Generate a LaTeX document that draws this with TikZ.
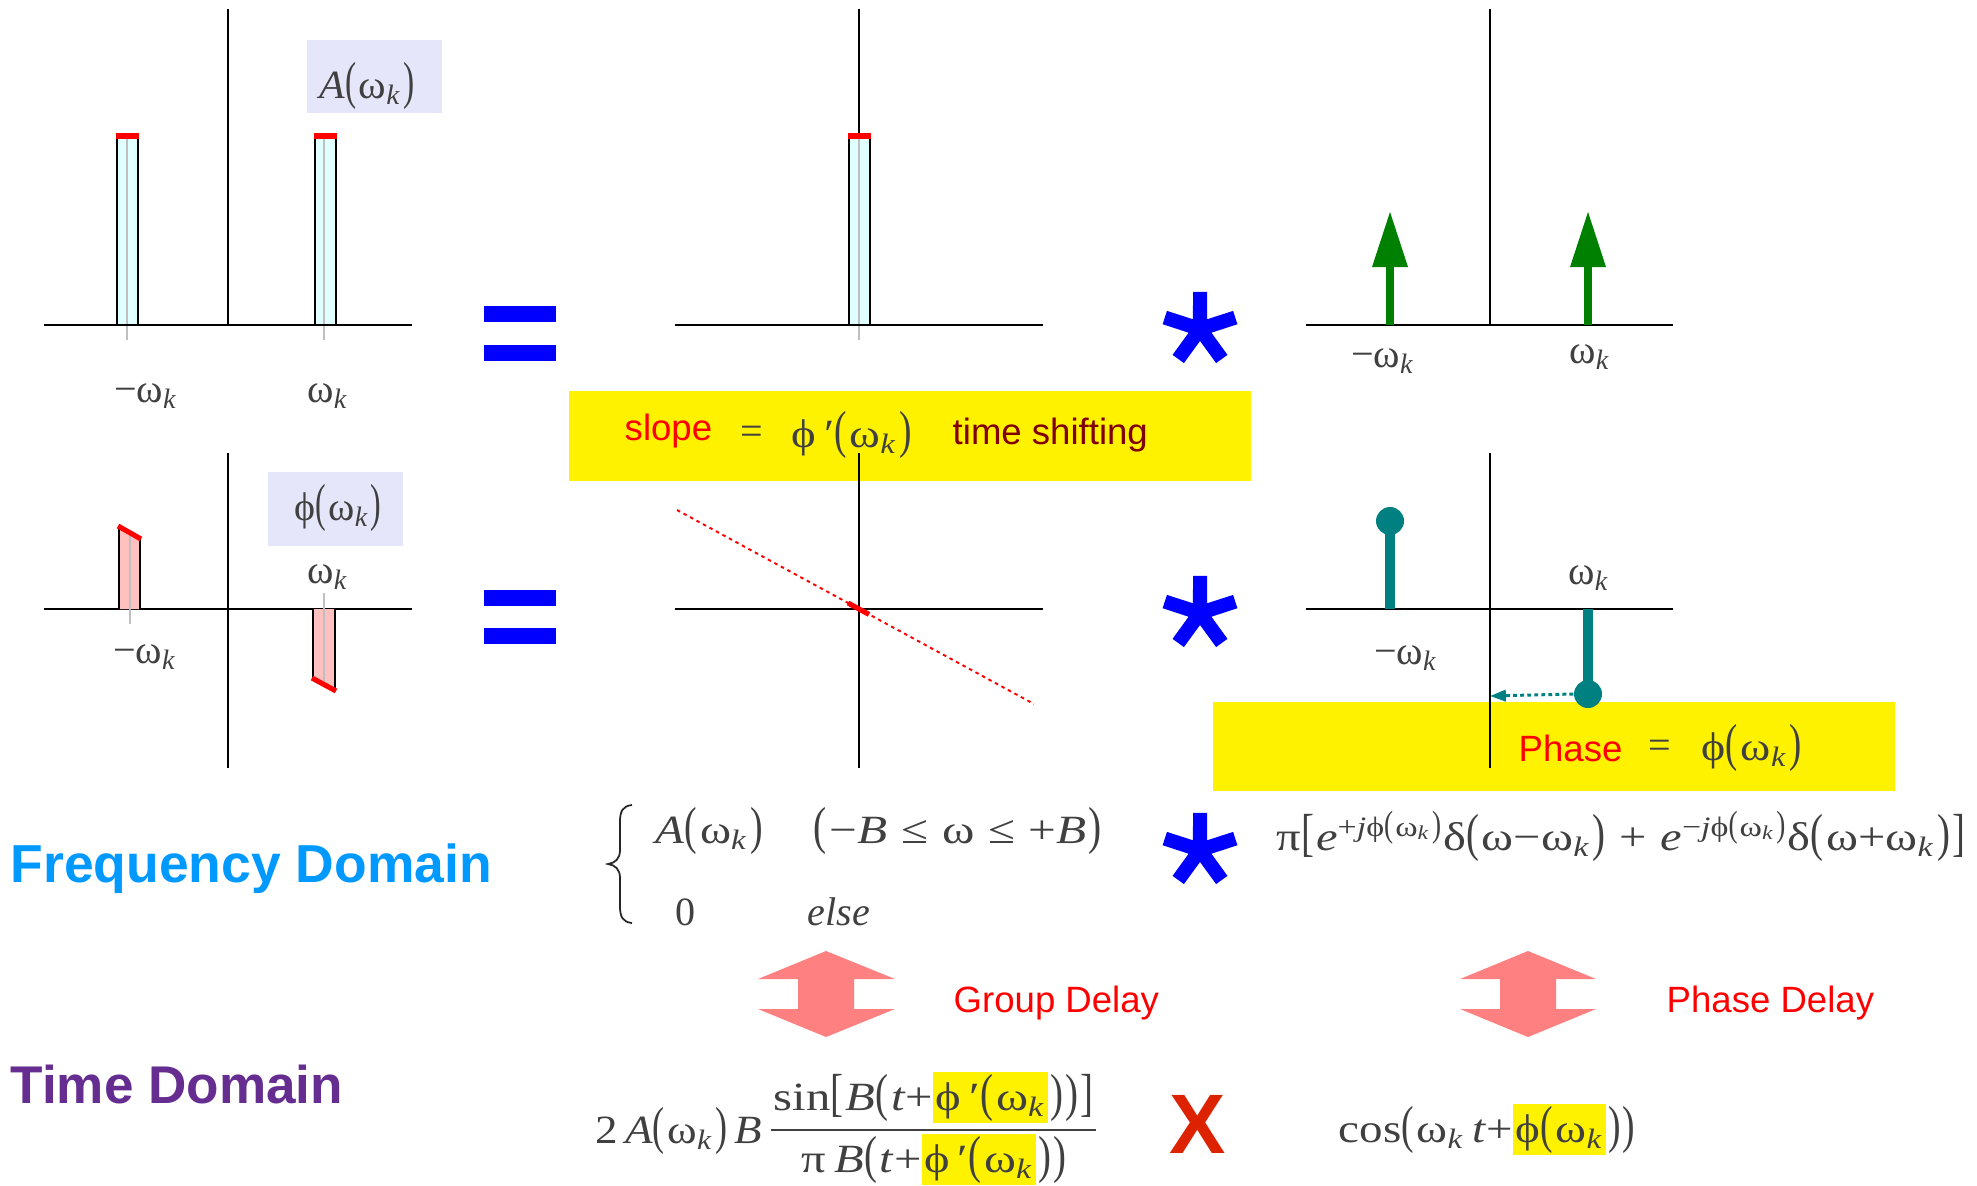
\documentclass[tikz,border=0pt]{standalone}
\usepackage{fontspec}
\usepackage{graphicx}
\setmainfont{Liberation Serif}
\newfontfamily\sansf{Liberation Sans}
\usetikzlibrary{arrows.meta}
\definecolor{txtgray}{HTML}{404040}
\definecolor{lav}{HTML}{E6E6FA}
\definecolor{bcyan}{HTML}{E0FFFF}
\definecolor{bpink}{HTML}{FFC0C0}
\definecolor{fdblue}{HTML}{0099FF}
\definecolor{tdpurple}{HTML}{662D91}
\definecolor{maroonx}{HTML}{800000}
\definecolor{salmonx}{HTML}{FF8080}
\definecolor{greenx}{HTML}{008000}
\definecolor{tealx}{HTML}{008080}
\definecolor{xred}{HTML}{DD2200}
\definecolor{eqblue}{HTML}{0000FF}
\newcommand\fs{\fontsize{11.4pt}{13pt}\selectfont}
\newcommand\sfs{\sansf\fontsize{10.4pt}{12pt}\selectfont}
\newcommand\wk{ω\textsubscript{\textit{k}}}
\newcommand\ph{ϕ}
\newcommand\Lp{\scalebox{0.8}[1.3]{(}\kern0.06em}
\newcommand\Rp{\kern0.04em\scalebox{0.8}[1.3]{)}}
\newcommand\Lb{\scalebox{0.8}[1.3]{[}\kern0.04em}
\newcommand\Rb{\kern0.04em\scalebox{0.8}[1.3]{]}}
\newcommand\rgap{\hspace{0.28em}}
\newcommand\hly[1]{{\fboxsep=0.6pt\colorbox{yellow}{#1}}}
\newcommand\fitw[2]{\resizebox{#1}{\height}{#2}}
\newcommand\bluestar[1]{\fill[eqblue,shift={(#1)}]
 (-126:12) -- (-100.7:37.7) -- (-79.3:37.7) -- (-54:12) -- (-28.7:37.7) -- (-7.3:37.7)
 -- (18:12) -- (43.3:37.7) -- (64.7:37.7) -- (90:12) -- (115.3:37.7) -- (136.7:37.7)
 -- (162:12) -- (187.3:37.7) -- (208.7:37.7) -- cycle;}
\begin{document}
\begin{tikzpicture}[x=0.01cm,y=-0.01cm,
  axis/.style={line width=0.71pt, black},
  tickg/.style={line width=0.55pt, black!25},
  bar/.style={draw=black, line width=0.6pt},
  redcap/.style={red, line width=1.45pt},
  lbl/.style={text=txtgray, font=\fs, inner sep=0pt},
  slbl/.style={font=\sfs, inner sep=0pt},
  hlbox/.style={fill=yellow, inner sep=0pt},
  lavbox/.style={fill=lav, inner sep=0pt},
  bigsans/.style={inner sep=0pt}]
\useasboundingbox (0,0) rectangle (1977,1185);
\fill[white] (0,0) rectangle (1977,1185);

% yellow boxes
\node[hlbox, minimum width=6.82cm, minimum height=0.90cm] (slopebox) at (910,436) {};
\node[hlbox, minimum width=6.82cm, minimum height=0.89cm] (phasebox) at (1554,746.5) {};

% ---------- top-left chart
\node[lavbox, minimum width=1.35cm, minimum height=0.73cm] (abox) at (374.5,76.5) {};
\node[lbl, anchor=base] (alab) at (367,98) {\fitw{0.95cm}{\textit{A}\Lp\wk\Rp}};
\draw[axis] (44,325) -- (412,325);
\draw[axis] (228,9) -- (228,325);
\fill[bcyan] (117,325) rectangle (138,136);
\fill[bcyan] (315,325) rectangle (336,136);
\draw[tickg] (127,136) -- (127,340);
\draw[tickg] (324,136) -- (324,340);
\draw[bar] (117,325) rectangle (138,136);
\draw[bar] (315,325) rectangle (336,136);
\draw[redcap] (116,136) -- (139,136);
\draw[redcap] (314,136) -- (337,136);
\node[lbl] (tl1) at (146,396) {−\wk};
\node[lbl] (tl2) at (328,396) {\wk};

% ---------- bottom-left chart
\node[lavbox, minimum width=1.35cm, minimum height=0.74cm] (pbox) at (335.5,509) {};
\node[lbl, anchor=base] (plab) at (338,520) {\fitw{0.87cm}{\ph\Lp\wk\Rp}};
\draw[axis] (44,609) -- (412,609);
\draw[axis] (228,453) -- (228,768);
\fill[bpink] (119,609) -- (119,527) -- (140,538) -- (140,609) -- cycle;
\fill[bpink] (313,609) -- (313,679) -- (335,690) -- (335,609) -- cycle;
\draw[tickg] (130,534) -- (130,624);
\draw[tickg] (324,593) -- (324,685);
\draw[bar] (119,609) -- (119,527) (140,538) -- (140,609);
\draw[bar] (313,609) -- (313,679) (335,690) -- (335,609);
\draw[redcap] (118,526) -- (141,539);
\draw[redcap] (312,678) -- (336,691);
\node[lbl] (bl1) at (328,577) {\wk};
\node[lbl] (bl2) at (145,657) {−\wk};

% ---------- equals
\fill[eqblue] (484,306) rectangle (556,322);
\fill[eqblue] (484,345) rectangle (556,361);
\fill[eqblue] (484,590) rectangle (556,606);
\fill[eqblue] (484,628) rectangle (556,644);

% ---------- top-middle chart
\draw[axis] (675,325) -- (1043,325);
\draw[axis] (859,9) -- (859,325);
\fill[bcyan] (849,325) rectangle (870,136);
\draw[tickg] (859,136) -- (859,340);
\draw[bar] (849,325) rectangle (870,136);
\draw[redcap] (848,136) -- (871,136);

% ---------- bottom-middle chart
\draw[axis] (675,609) -- (1043,609);
\draw[axis] (859,453) -- (859,768);
\draw[red, line width=0.55pt, dash pattern=on 1pt off 1.1pt] (677,510) -- (1034,704);
\draw[red, line width=1.45pt] (848,603) -- (869,614.4);

% slope text
\node[slbl, text=red, anchor=base west] (slope) at (624,440) {slope};
\node[lbl, anchor=base] (eqa) at (752,444) {=};
\node[lbl, anchor=base west] (dphi) at (791,447) {\fitw{1.20cm}{\ph\,′\Lp\wk\Rp}};
\node[slbl, text=maroonx, anchor=base west] (tshift) at (952,444) {time shifting};

% ---------- asterisks
\bluestar{1200,329}
\bluestar{1200,613}
\bluestar{1200,850}

% ---------- top-right chart
\draw[axis] (1306,325) -- (1673,325);
\draw[axis] (1490,9) -- (1490,325);
\fill[greenx] (1386,267) rectangle (1394,325);
\fill[greenx] (1372,267) -- (1408,267) -- (1390,212) -- cycle;
\fill[greenx] (1584,267) rectangle (1592,325);
\fill[greenx] (1570,267) -- (1606,267) -- (1588,212) -- cycle;
\node[lbl] (tr1) at (1383,361) {−\wk};
\node[lbl] (tr2) at (1590,357) {\wk};

% ---------- bottom-right chart
\draw[axis] (1306,609) -- (1673,609);
\draw[axis] (1490,453) -- (1490,768);
\draw[tealx, line width=2.6pt] (1390,609) -- (1390,521);
\draw[tealx, line width=2.6pt] (1588,609) -- (1588,694);
\node[circle, fill=tealx, minimum size=0.28cm, inner sep=0pt] (c1) at (1390,521) {};
\node[circle, fill=tealx, minimum size=0.28cm, inner sep=0pt] (c2) at (1588,694) {};
\coordinate (axp) at (1490,696);
\draw[tealx, line width=0.85pt, dash pattern=on 1.1pt off 0.9pt,
  -{Triangle[length=4.5pt,width=3.2pt]}] (c2.west) -- (axp);
\node[lbl] (br1) at (1589,578) {\wk};
\node[lbl] (br2) at (1406,658) {−\wk};

% phase text
\node[slbl, text=red, anchor=base west] (phase) at (1518,761) {Phase};
\node[lbl, anchor=base] (eqb) at (1660,758) {=};
\node[lbl, anchor=base west] (phw) at (1701,760) {\fitw{1.00cm}{\ph\Lp\wk\Rp}};

% ---------- frequency-domain formulas
\node[bigsans, text=fdblue, anchor=base west, font=\sansf\bfseries\fontsize{15.2pt}{17pt}\selectfont] (fd) at (10,882) {Frequency Domain};
\draw[black!85, line width=0.5pt] (632,805) .. controls (622,806) and (620,812) .. (620,822)
  -- (620,850) .. controls (620,859) and (615,863) .. (608,864)
  .. controls (615,865) and (620,869) .. (620,878) -- (620,906)
  .. controls (620,916) and (622,922) .. (632,923);
\node[lbl, anchor=base west] (pa) at (655,843) {\fitw{1.07cm}{\textit{A}\Lp\wk\Rp}};
\node[lbl, anchor=base west] (pb) at (813,843) {\fitw{2.88cm}{\Lp−\textit{B}\rgap≤\rgap ω\rgap≤\rgap+\textit{B}\Rp}};
\node[lbl, anchor=base west] (pc) at (675,925) {0};
\node[lbl, anchor=base west] (pd) at (807,925) {\textit{else}};
\node[lbl, anchor=base west] (big) at (1276,850)
 {\fitw{6.88cm}{π\Lb\textit{e}\textsuperscript{+\textit{j}\ph\Lp\wk\Rp}δ\Lp ω−\wk\Rp\rgap+\rgap\textit{e}\textsuperscript{−\textit{j}\ph\Lp\wk\Rp}δ\Lp ω+\wk\Rp\Rb}};

% ---------- double arrows
\fill[salmonx] (826,951) -- (895,979) -- (854,979) -- (854,1009) -- (895,1009) -- (826,1037)
  -- (758,1009) -- (798,1009) -- (798,979) -- (758,979) -- cycle;
\fill[salmonx] (1528,951) -- (1596,979) -- (1556,979) -- (1556,1009) -- (1596,1009) -- (1528,1037)
  -- (1460,1009) -- (1500,1009) -- (1500,979) -- (1460,979) -- cycle;
\node[slbl, text=red, anchor=base west] (gd) at (953,1012) {Group Delay};
\node[slbl, text=red, anchor=base west] (pdl) at (1666,1012) {Phase Delay};

% ---------- time-domain formulas
\node[bigsans, text=tdpurple, anchor=base west, font=\sansf\bfseries\fontsize{15.1pt}{17pt}\selectfont] (td) at (10,1103) {Time Domain};
\node[lbl, anchor=base east] (tdl) at (763,1143) {\fitw{1.67cm}{2\,\textit{A}\Lp\wk\Rp\,\textit{B}}};
\node[lbl, anchor=base] (num) at (933.5,1110) {\fitw{3.19cm}{sin\Lb\textit{B}\Lp\textit{t}+\hly{\ph\,′\Lp\wk}\Rp\Rp\Rb}};
\node[lbl, anchor=base] (den) at (934,1172) {\fitw{2.64cm}{π\,\textit{B}\Lp\textit{t}+\hly{\ph\,′\Lp\wk}\Rp\Rp}};
\draw[txtgray, line width=0.75pt] (771,1130) -- (1096,1130);
\node[font=\sansf\bfseries\fontsize{24pt}{26pt}\selectfont, text=xred, anchor=base, inner sep=0pt] (xx) at (1198,1153) {X};
\node[lbl, anchor=base west] (cosf) at (1338,1142) {\fitw{2.96cm}{cos\Lp\wk\,\textit{t}+\hly{\ph\Lp\wk}\Rp\Rp}};
\end{tikzpicture}
\end{document}
